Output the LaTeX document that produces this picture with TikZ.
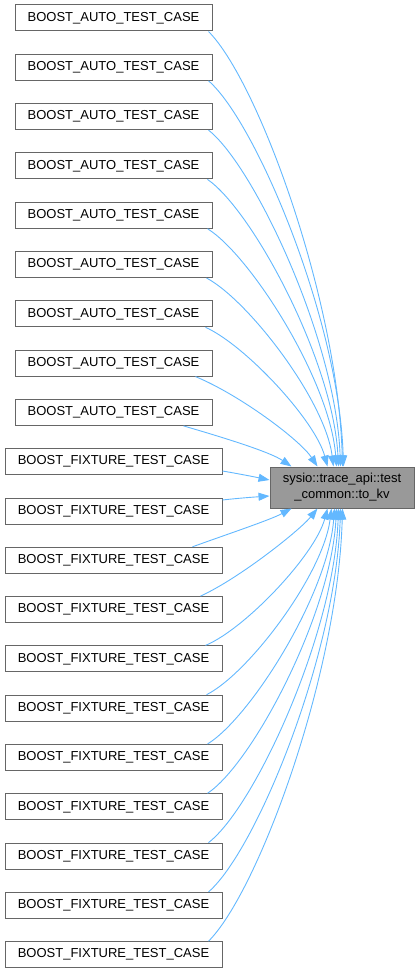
\documentclass[tikz,border=0pt]{standalone}
\usepackage{fontspec}
\setmainfont{Liberation Sans}
\usetikzlibrary{arrows.meta}
\definecolor{edgeblue}{HTML}{63B8FF}
\definecolor{boxborder}{HTML}{666666}
\definecolor{targetfill}{HTML}{999999}
\begin{document}
\begin{tikzpicture}[x=1pt,y=-1pt,
  box/.style={draw=boxborder, line width=1pt, fill=white, minimum height=26pt, inner sep=0pt, font=\fontsize{13}{15}\selectfont},
  autobox/.style={box, minimum width=197pt},
  fixbox/.style={box, minimum width=217pt},
  target/.style={draw=boxborder, fill=targetfill, line width=1pt, minimum width=144pt, minimum height=41pt, align=center, inner sep=0pt, font=\fontsize{13}{16}\selectfont},
  edge/.style={draw=edgeblue, line width=0.9pt, -{Triangle[length=11pt,width=8pt]}}]
\useasboundingbox (0,0) rectangle (419,974);

\node[autobox] (a1) at (113.5,18) {BOOST\_AUTO\_TEST\_CASE};
\node[autobox] (a2) at (113.5,67.3) {BOOST\_AUTO\_TEST\_CASE};
\node[autobox] (a3) at (113.5,116.6) {BOOST\_AUTO\_TEST\_CASE};
\node[autobox] (a4) at (113.5,165.9) {BOOST\_AUTO\_TEST\_CASE};
\node[autobox] (a5) at (113.5,215.2) {BOOST\_AUTO\_TEST\_CASE};
\node[autobox] (a6) at (113.5,264.5) {BOOST\_AUTO\_TEST\_CASE};
\node[autobox] (a7) at (113.5,313.8) {BOOST\_AUTO\_TEST\_CASE};
\node[autobox] (a8) at (113.5,363.1) {BOOST\_AUTO\_TEST\_CASE};
\node[autobox] (a9) at (113.5,412.4) {BOOST\_AUTO\_TEST\_CASE};
\node[fixbox] (f1) at (113.5,461.7) {BOOST\_FIXTURE\_TEST\_CASE};
\node[fixbox] (f2) at (113.5,511) {BOOST\_FIXTURE\_TEST\_CASE};
\node[fixbox] (f3) at (113.5,560.3) {BOOST\_FIXTURE\_TEST\_CASE};
\node[fixbox] (f4) at (113.5,609.6) {BOOST\_FIXTURE\_TEST\_CASE};
\node[fixbox] (f5) at (113.5,658.9) {BOOST\_FIXTURE\_TEST\_CASE};
\node[fixbox] (f6) at (113.5,708.2) {BOOST\_FIXTURE\_TEST\_CASE};
\node[fixbox] (f7) at (113.5,757.5) {BOOST\_FIXTURE\_TEST\_CASE};
\node[fixbox] (f8) at (113.5,806.8) {BOOST\_FIXTURE\_TEST\_CASE};
\node[fixbox] (f9) at (113.5,856.1) {BOOST\_FIXTURE\_TEST\_CASE};
\node[fixbox] (f10) at (113.5,905.4) {BOOST\_FIXTURE\_TEST\_CASE};
\node[fixbox] (f11) at (113.5,954.7) {BOOST\_FIXTURE\_TEST\_CASE};

\node[target] (t) at (342,487.5) {sysio::trace\_api::test\\\_common::to\_kv};

\draw[edge] ([xshift=-4pt]a1.south east) .. controls (258,81) and (338,300) .. ([xshift=73pt]t.north west);
\draw[edge] ([xshift=-4pt]a2.south east) .. controls (256,122) and (339,320) .. ([xshift=74pt]t.north west);
\draw[edge] ([xshift=-4pt]a3.south east) .. controls (254,166) and (336,340) .. ([xshift=71pt]t.north west);
\draw[edge] ([xshift=-5pt]a4.south east) .. controls (252,210) and (333,360) .. ([xshift=69pt]t.north west);
\draw[edge] ([xshift=-5pt]a5.south east) .. controls (250,255) and (330,380) .. ([xshift=67pt]t.north west);
\draw[edge] ([xshift=-6pt]a6.south east) .. controls (248,300) and (325,400) .. ([xshift=64pt]t.north west);
\draw[edge] ([xshift=-7pt]a7.south east) .. controls (245,345) and (315,420) .. ([xshift=58pt]t.north west);
\draw[edge] ([xshift=-17pt]a8.south east) .. controls (240,395) and (300,440) .. ([xshift=48pt]t.north west);
\draw[edge] ([xshift=-29pt]a9.south east) .. controls (225,438) and (270,452) .. ([xshift=22pt]t.north west);

\draw[edge] ([yshift=-9.3pt]f1.east) .. controls (240,474) and (255,477) .. ([yshift=7.5pt]t.west);
\draw[edge] ([yshift=11pt]f2.east) .. controls (240,498) and (255,497) .. ([yshift=-8.5pt]t.west);

\draw[edge] ([xshift=-30pt]f3.north east) .. controls (225,535) and (270,520) .. ([xshift=22pt]t.south west);
\draw[edge] ([xshift=-22pt]f4.north east) .. controls (240,578) and (300,530) .. ([xshift=48pt]t.south west);
\draw[edge] ([xshift=-17pt]f5.north east) .. controls (245,629) and (315,555) .. ([xshift=58pt]t.south west);
\draw[edge] ([xshift=-16pt]f6.north east) .. controls (248,674) and (323,575) .. ([xshift=62pt]t.south west);
\draw[edge] ([xshift=-15pt]f7.north east) .. controls (250,718) and (328,595) .. ([xshift=65pt]t.south west);
\draw[edge] ([xshift=-15pt]f8.north east) .. controls (252,764) and (331,615) .. ([xshift=67pt]t.south west);
\draw[edge] ([xshift=-14pt]f9.north east) .. controls (254,808) and (334,635) .. ([xshift=69pt]t.south west);
\draw[edge] ([xshift=-14pt]f10.north east) .. controls (256,851) and (336,655) .. ([xshift=71pt]t.south west);
\draw[edge] ([xshift=-14pt]f11.north east) .. controls (258,892) and (338,675) .. ([xshift=73pt]t.south west);
\end{tikzpicture}
\end{document}
